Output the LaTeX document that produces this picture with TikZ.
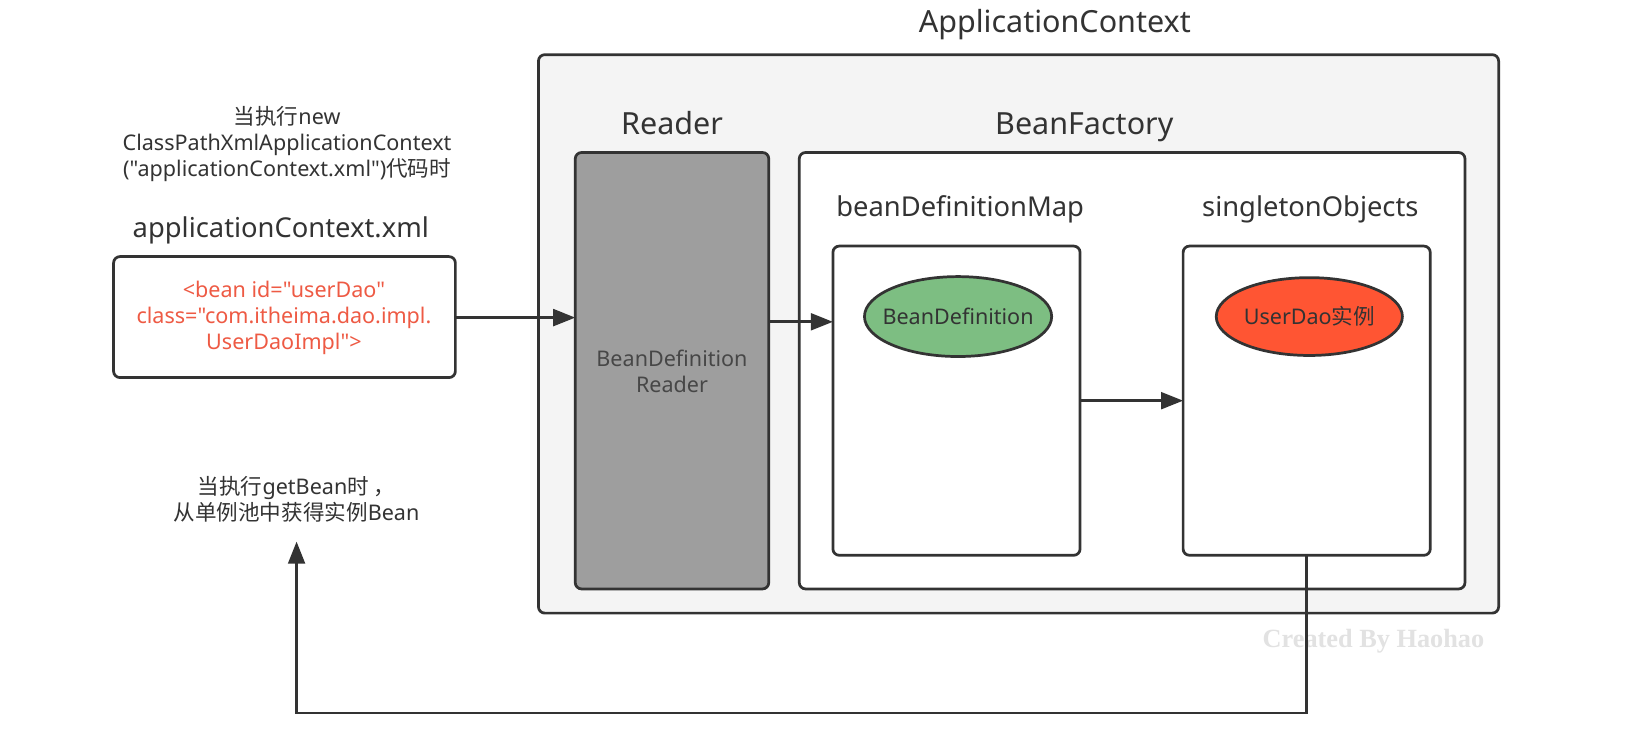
\documentclass[tikz,border=0pt]{standalone}
\usepackage{fontspec}
\setmainfont{Noto Sans}[Ligatures=TeXOff]
\newfontfamily\cjk{Noto Sans CJK SC}
\newfontfamily\wmfont{Liberation Serif}
\usetikzlibrary{arrows.meta,shapes.geometric}
\definecolor{txt}{HTML}{333333}
\definecolor{outerfill}{HTML}{F4F4F4}
\definecolor{readerfill}{HTML}{9E9E9E}
\definecolor{edge}{HTML}{333333}
\definecolor{bdgreen}{HTML}{7DBE82}
\definecolor{udred}{HTML}{FF5533}
\definecolor{redtxt}{HTML}{EE5A44}
\definecolor{wm}{HTML}{E2E2E2}
\tikzset{
  box/.style={draw=edge, line width=2.6pt, rounded corners=6pt, inner sep=0pt, outer sep=0pt, anchor=north west},
  bigtitle/.style={text=txt, inner sep=0pt, anchor=base, font=\fontsize{29}{34}\selectfont},
  subtitle/.style={text=txt, inner sep=0pt, anchor=base, font=\fontsize{26}{31}\selectfont},
  small/.style={text=txt, inner sep=0pt, align=center, font=\fontsize{20.5}{24.8}\selectfont},
  oval/.style={ellipse, draw=edge, line width=2.6pt, inner sep=0pt, outer sep=0pt},
  arr/.style={draw=edge, line width=2.6pt, -{Triangle[length=21pt,width=16pt]}},
}
\begin{document}
\begin{tikzpicture}[x=1pt,y=-1pt]
\useasboundingbox (0,0) rectangle (1568,715);
\fill[white] (0,0) rectangle (1568,715);

% outer ApplicationContext
\node[box, fill=outerfill, minimum width=913pt, minimum height=531pt] (outer) at (512,52) {};
\node[bigtitle] (tAC) at (1003,31) {ApplicationContext};

% Reader
\node[bigtitle] (tReader) at (639,128) {Reader};
\node[box, fill=readerfill, minimum width=184pt, minimum height=415pt] (reader) at (547,145) {};
\node[small, text=black!72] (readertxt) at (639,353) {BeanDefinition\\Reader};

% BeanFactory
\node[bigtitle] (tBF) at (1031,128) {BeanFactory};
\node[box, fill=white, minimum width=633pt, minimum height=415pt] (bf) at (760,145) {};

% beanDefinitionMap
\node[subtitle] (tBDM) at (913,206) {beanDefinitionMap};
\node[box, fill=white, minimum width=235pt, minimum height=294pt] (bdm) at (792,234) {};
\node[oval, fill=bdgreen, minimum width=178pt, minimum height=76pt] (bd) at (911,301) {};
\node[small] (bdtxt) at (bd.center) {BeanDefinition};

% singletonObjects
\node[subtitle] (tSO) at (1246,206) {singletonObjects};
\node[box, fill=white, minimum width=235pt, minimum height=294pt] (so) at (1125,234) {};
\node[oval, fill=udred, minimum width=177pt, minimum height=74pt] (ud) at (1245,301) {};
\node[small] (udtxt) at (ud.center) {UserDao{\cjk 实例}};

% left side
\node[small] (note1) at (273,137) {{\cjk 当执行}new\\ClassPathXmlApplicationContext\\("applicationContext.xml"){\cjk 代码时}};
\node[subtitle] (tXML) at (267,226) {applicationContext.xml};
\node[box, fill=white, minimum width=325pt, minimum height=115pt] (xml) at (108,244) {};
\node[small, text=redtxt] (xmltxt) at (270,302) {<bean id="userDao"\\class="com.itheima.dao.impl.\\UserDaoImpl">};

\node[small] (note2) at (282,475) {{\cjk 当执行}getBean{\cjk 时 ，}\\{\cjk 从单例池中获得实例}Bean};

% watermark
\node[text=wm, inner sep=0pt, font=\wmfont\bfseries\fontsize{25}{30}\selectfont] (wmark) at (1306,610) {Created By Haohao};

% connectors
\coordinate (a1) at (0,302);
\coordinate (a2) at (0,306);
\coordinate (a3) at (0,381);
\coordinate (rb) at (282,678);
\coordinate (gbend) at (282,515);
\draw[arr] (a1 -| xml.east) -- (a1 -| reader.west);
\draw[arr] (a2 -| reader.east) -- (a2 -| bdm.west);
\draw[arr] (a3 -| bdm.east) -- (a3 -| so.west);
\draw[arr] (so.south) |- (rb) -- (gbend);
\end{tikzpicture}
\end{document}
